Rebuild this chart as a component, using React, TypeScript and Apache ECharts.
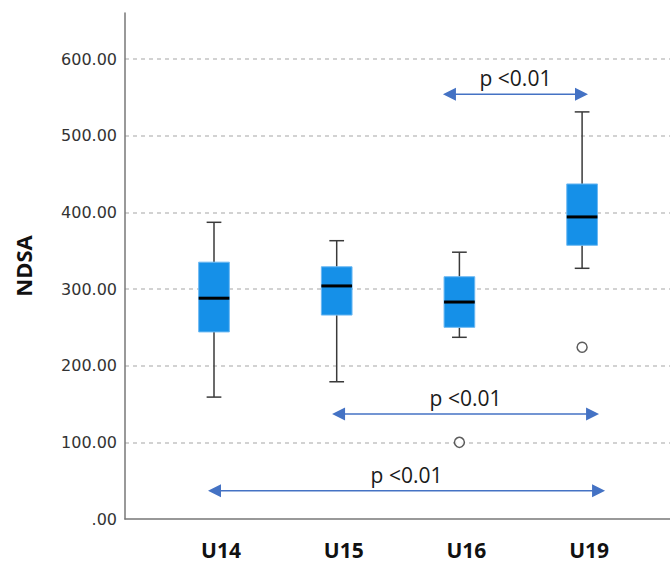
import React, { useEffect, useRef } from "react";
import * as echarts from "echarts";

const categories = ["U14", "U15", "U16", "U19"];
const whiskerLow = [159, 179, 237, 327];
const quartile1 = [244, 266, 250, 357];
const medians = [288, 304, 283, 394];
const quartile3 = [335, 329, 316, 437];
const whiskerHigh = [387, 363, 348, 531];
// outliers: [category index, value]
const outliers = [
  [2, 100],
  [3, 224],
];
const yTickLabels = [".00", "100.00", "200.00", "300.00", "400.00", "500.00", "600.00"];
// comparisons: start / end in category units, height in NDSA units
const compFrom = [1.866, 0.962, -0.049];
const compTo = [3.048, 3.138, 3.187];
const compLevel = [554, 137, 37];
const compLabels = ["p <0.01", "p <0.01", "p <0.01"];

const Y_MAX = 660;

export default function App() {
  const ref = useRef<HTMLDivElement>(null);
  useEffect(() => {
    if (!ref.current) return;
    const chart = echarts.init(ref.current, undefined, { renderer: "svg" });
    const boxData = categories.map((_, i) => [
      i,
      whiskerLow[i],
      quartile1[i],
      medians[i],
      quartile3[i],
      whiskerHigh[i],
    ]);
    const compData = compFrom.map((f, i) => [f, compTo[i], compLevel[i], i]);
    const option: any = {
      animation: false,
      backgroundColor: "#ffffff",
      grid: [
        { left: 125, right: 0, top: 13, bottom: 46 },
        { left: 152.65, width: 490.8, top: 13, bottom: 46 },
      ],
      xAxis: [
        {
          gridIndex: 0,
          type: "value",
          min: 0,
          max: 1,
          axisLine: { show: true, onZero: false, lineStyle: { color: "#777", width: 1.5 } },
          axisTick: { show: false },
          axisLabel: { show: false },
          splitLine: { show: false },
        },
        {
          gridIndex: 1,
          type: "category",
          data: categories,
          axisLine: { show: false },
          axisTick: { show: false },
          splitLine: { show: false },
          axisLabel: {
            margin: 20,
            fontSize: 21,
            fontWeight: "bold",
            fontFamily: "Open Sans",
            color: "#111",
            padding: [0, 0, 0, 14],
          },
        },
        {
          gridIndex: 1,
          type: "value",
          min: -0.5,
          max: 3.5,
          show: false,
        },
      ],
      yAxis: [
        {
          gridIndex: 0,
          type: "value",
          min: 0,
          max: Y_MAX,
          interval: 100,
          name: "NDSA",
          nameLocation: "middle",
          nameGap: 91,
          nameTextStyle: {
            fontSize: 22,
            fontWeight: "bold",
            fontFamily: "Open Sans",
            color: "#111",
          },
          axisLine: { show: true, lineStyle: { color: "#777", width: 1.5 } },
          axisTick: { show: false },
          axisLabel: {
            margin: 8,
            fontSize: 16,
            fontFamily: "DejaVu Sans",
            color: "#333",
            showMaxLabel: false,
            formatter: (v: number) => {
              const idx = Math.round(v / 100);
              return Math.abs(v - idx * 100) < 1e-6 && yTickLabels[idx] !== undefined ? yTickLabels[idx] : "";
            },
          },
          splitLine: {
            show: true,
            showMinLine: false,
            showMaxLine: false,
            lineStyle: { color: "#c4c4c4", width: 1.5, type: [4, 4] },
          },
        },
        {
          gridIndex: 1,
          type: "value",
          min: 0,
          max: Y_MAX,
          show: false,
          splitLine: { show: false },
        },
      ],
      series: [
        {
          type: "custom",
          xAxisIndex: 2,
          yAxisIndex: 1,
          data: boxData,
          encode: { x: 0, y: [1, 2, 3, 4, 5] },
          renderItem: (params: any, api: any) => {
            const x = api.value(0);
            const lo = api.coord([x, api.value(1)]);
            const q1 = api.coord([x, api.value(2)]);
            const md = api.coord([x, api.value(3)]);
            const q3 = api.coord([x, api.value(4)]);
            const hi = api.coord([x, api.value(5)]);
            const band = api.size([1, 0])[0];
            const bw = band * 0.25;
            const cw = band * 0.12;
            const cx = lo[0];
            const ws = { stroke: "#3a3a3a", lineWidth: 1.5 };
            return {
              type: "group",
              children: [
                { type: "line", shape: { x1: cx, y1: hi[1], x2: cx, y2: q3[1] }, style: ws },
                { type: "line", shape: { x1: cx, y1: q1[1], x2: cx, y2: lo[1] }, style: ws },
                { type: "line", shape: { x1: cx - cw / 2, y1: hi[1], x2: cx + cw / 2, y2: hi[1] }, style: ws },
                { type: "line", shape: { x1: cx - cw / 2, y1: lo[1], x2: cx + cw / 2, y2: lo[1] }, style: ws },
                {
                  type: "rect",
                  shape: { x: cx - bw / 2, y: q3[1], width: bw, height: q1[1] - q3[1] },
                  style: { fill: "#1590e8", stroke: "#6cb8f2", lineWidth: 1 },
                },
                {
                  type: "line",
                  shape: { x1: cx - bw / 2, y1: md[1], x2: cx + bw / 2, y2: md[1] },
                  style: { stroke: "#000", lineWidth: 3 },
                },
              ],
            };
          },
        },
        {
          type: "scatter",
          xAxisIndex: 2,
          yAxisIndex: 1,
          data: outliers,
          symbol: "circle",
          symbolSize: 10,
          itemStyle: { color: "#ffffff", borderColor: "#333", borderWidth: 1.5 },
        },
        {
          type: "custom",
          xAxisIndex: 2,
          yAxisIndex: 1,
          data: compData,
          encode: { x: [0, 1], y: 2 },
          clip: false,
          renderItem: (params: any, api: any) => {
            const p1 = api.coord([api.value(0), api.value(2)]);
            const p2 = api.coord([api.value(1), api.value(2)]);
            const label = compLabels[api.value(3)];
            const head = 13;
            const hh = 6.5;
            const color = "#4472c4";
            const y = p1[1];
            return {
              type: "group",
              children: [
                {
                  type: "line",
                  shape: { x1: p1[0] + head - 1, y1: y, x2: p2[0] - head + 1, y2: y },
                  style: { stroke: color, lineWidth: 1.5 },
                },
                {
                  type: "polygon",
                  shape: { points: [[p1[0], y], [p1[0] + head, y - hh], [p1[0] + head, y + hh]] },
                  style: { fill: color },
                },
                {
                  type: "polygon",
                  shape: { points: [[p2[0], y], [p2[0] - head, y - hh], [p2[0] - head, y + hh]] },
                  style: { fill: color },
                },
                {
                  type: "text",
                  x: (p1[0] + p2[0]) / 2,
                  y: y - 16,
                  style: {
                    text: label,
                    align: "center",
                    verticalAlign: "middle",
                    fontSize: 21,
                    fontFamily: "Open Sans",
                    fill: "#1a1a1a",
                  },
                },
              ],
            };
          },
        },
      ],
    };
    chart.setOption(option);
    return () => chart.dispose();
  }, []);
  return (
    <div
      ref={ref}
      style={{ position: "fixed", left: 0, top: 0, width: 670, height: 565 }}
    />
  );
}
